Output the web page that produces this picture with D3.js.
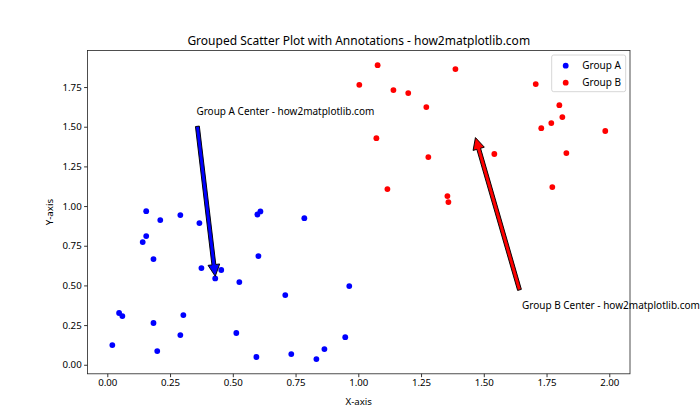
<!DOCTYPE html>
<html>
<head>
<meta charset="utf-8">
<script src="https://d3js.org/d3.v7.min.js"></script>
<style>
  body { margin: 0; background: #fff; }
  text { font-family: "Noto Sans", "DejaVu Sans", sans-serif; fill: #000; }
</style>
</head>
<body>
<script>
// data
var groupAX = [0.020,0.047,0.060,0.155,0.211,0.291,0.367,0.141,0.155,0.184,0.184,0.199,0.291,0.303,0.375,
               0.430,0.454,0.526,0.514,0.594,0.598,0.610,0.602,0.733,0.709,0.785,0.833,0.865,0.948,0.964];
var groupAY = [0.124,0.326,0.307,0.968,0.912,0.943,0.893,0.773,0.811,0.666,0.263,0.086,0.187,0.313,0.609,
               0.544,0.597,0.521,0.200,0.049,0.947,0.966,0.685,0.067,0.439,0.924,0.036,0.099,0.174,0.496];
var groupBX = [1.077,1.387,1.004,1.140,1.199,1.271,1.072,1.279,1.116,1.355,
               1.359,1.542,1.707,1.801,1.813,1.769,1.729,1.984,1.829,1.773];
var groupBY = [1.888,1.863,1.764,1.731,1.712,1.624,1.428,1.309,1.107,1.063,
               1.025,1.328,1.769,1.636,1.561,1.523,1.491,1.473,1.334,1.120];
var groupNames = ["Group A","Group B"];
var groupColors = ["blue","red"];
var xTicks = [0,0.25,0.5,0.75,1.0,1.25,1.5,1.75,2.0];
var yTicks = [0,0.25,0.5,0.75,1.0,1.25,1.5,1.75];
// annotations: target (group center) and text anchor, data coords
var annotText = ["Group A Center - how2matplotlib.com","Group B Center - how2matplotlib.com"];
var annotXY = [[0.434,0.505],[1.457,1.485]];
var annotXYText = [[0.355,1.574],[1.652,0.349]];

var w = 700, h = 420;
var mLeft = 87.5, mRight = 630, mTop = 50.4, mBottom = 373.8;

var x = d3.scaleLinear().domain([-0.0789,2.0825]).range([mLeft,mRight]);
var y = d3.scaleLinear().domain([-0.057,1.981]).range([mBottom,mTop]);

var svg = d3.select("body").append("svg")
  .attr("width",w)
  .attr("height",h);

var fs = 10;

// points
var groups = [[groupAX,groupAY],[groupBX,groupBY]];
groups.forEach(function(g,k){
  svg.append("g").selectAll("circle").data(g[0]).enter().append("circle")
    .attr("cx", d => x(d))
    .attr("cy", (d,i) => y(g[1][i]))
    .attr("r",2.9)
    .attr("fill",groupColors[k]);
});

// axes
var xAxis = d3.axisBottom(x).tickValues(xTicks).tickFormat(d3.format(".2f")).tickSize(3.4).tickPadding(2.4);
var yAxis = d3.axisLeft(y).tickValues(yTicks).tickFormat(d3.format(".2f")).tickSize(3.4).tickPadding(2.4);

var gx = svg.append("g").attr("transform","translate(0," + mBottom + ")").call(xAxis);
var gy = svg.append("g").attr("transform","translate(" + mLeft + ",0)").call(yAxis);
[gx,gy].forEach(function(g){
  g.select(".domain").remove();
  g.selectAll("line").attr("stroke","#000").attr("stroke-width",0.8);
  g.selectAll("text").style("font-family","Noto Sans, DejaVu Sans, sans-serif").style("font-size","9.7px").attr("fill","#222");
});

svg.append("rect")
  .attr("x",mLeft).attr("y",mTop)
  .attr("width",mRight-mLeft).attr("height",mBottom-mTop)
  .attr("fill","none").attr("stroke","#222").attr("stroke-width",0.8);

// annotations
annotText.forEach(function(t,k){
  var tx = x(annotXYText[k][0]), ty = y(annotXYText[k][1]);
  var txt = svg.append("text")
    .attr("x",tx).attr("y",ty)
    .style("font-size",fs+"px")
    .text(t);
  var bb = txt.node().getBBox();
  var px = x(annotXY[k][0]), py = y(annotXY[k][1]);
  // pick bbox point nearest the target, as matplotlib does
  var xs = [bb.x, bb.x+bb.width/2, bb.x+bb.width];
  var ys = [bb.y, bb.y+bb.height/2, bb.y+bb.height];
  var sx = xs.reduce((a,b) => Math.abs(b-px) < Math.abs(a-px) ? b : a);
  var sy = ys.reduce((a,b) => Math.abs(b-py) < Math.abs(a-py) ? b : a);
  var dx = px-sx, dy = py-sy, len = Math.sqrt(dx*dx+dy*dy);
  var ux = dx/len, uy = dy/len, nx = -uy, ny = ux;
  var ax0 = sx + ux*len*0.05, ay0 = sy + uy*len*0.05;
  var ax1 = px - ux*len*0.05, ay1 = py - uy*len*0.05;
  var hl = 11.7, hw = 11.7/2, tw = 3.9/2;
  var bx = ax1 - ux*hl, by = ay1 - uy*hl;
  var pts = [
    [ax0+nx*tw, ay0+ny*tw],
    [bx+nx*tw, by+ny*tw],
    [bx+nx*hw, by+ny*hw],
    [ax1, ay1],
    [bx-nx*hw, by-ny*hw],
    [bx-nx*tw, by-ny*tw],
    [ax0-nx*tw, ay0-ny*tw]
  ];
  svg.append("path")
    .attr("d","M" + pts.map(p => p.join(",")).join("L") + "Z")
    .attr("fill",groupColors[k])
    .attr("stroke","#000")
    .attr("stroke-width",0.97)
    .attr("stroke-linejoin","miter");
});

// title and labels
svg.append("text")
  .attr("x",(mLeft+mRight)/2).attr("y",44.5)
  .attr("text-anchor","middle")
  .style("font-size","12px")
  .text("Grouped Scatter Plot with Annotations - how2matplotlib.com");

svg.append("text")
  .attr("x",(mLeft+mRight)/2).attr("y",405)
  .attr("text-anchor","middle")
  .style("font-size","9.7px")
  .text("X-axis");

svg.append("text")
  .attr("transform","translate(53," + ((mTop+mBottom)/2) + ") rotate(-90)")
  .attr("text-anchor","middle")
  .style("font-size","9.7px")
  .text("Y-axis");

// legend
var lg = svg.append("g");
lg.append("rect")
  .attr("x",551.7).attr("y",55)
  .attr("width",74).attr("height",36.7)
  .attr("rx",2).attr("ry",2)
  .attr("fill","#fff").attr("fill-opacity",0.8)
  .attr("stroke","#ccc").attr("stroke-width",0.8);
groupNames.forEach(function(n,k){
  var yy = 65.7 + k*17;
  lg.append("circle").attr("cx",565.7).attr("cy",yy).attr("r",2.9).attr("fill",groupColors[k]);
  lg.append("text").attr("x",582.3).attr("y",yy).attr("dy","0.35em")
    .style("font-size",fs+"px").text(n);
});
</script>
</body>
</html>
